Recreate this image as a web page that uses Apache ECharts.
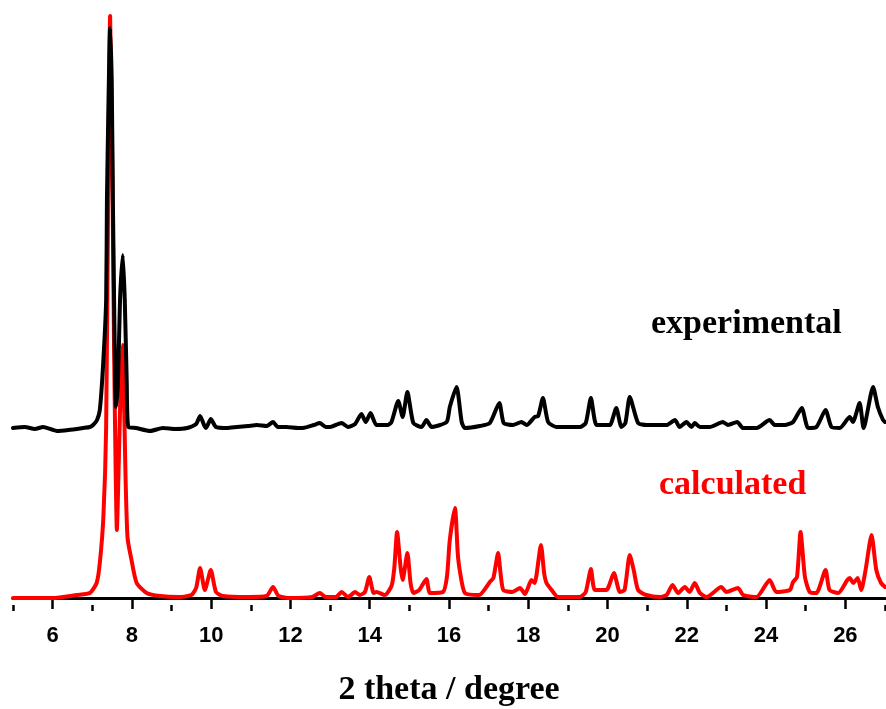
<!DOCTYPE html>
<html>
<head>
<meta charset="utf-8">
<script src="https://cdn.jsdelivr.net/npm/echarts@6/dist/echarts.min.js"></script>
<style>
html,body{margin:0;padding:0;background:#fff;}
#chart{width:886px;height:709px;}
</style>
</head>
<body>
<div id="chart"></div>
<script>
// 2theta positions (degree) and intensities
const calcTheta = [5.00,6.00,6.61,6.94,7.11,7.19,7.28,7.35,7.40,7.45,7.50,7.55,7.59,7.62,7.67,7.72,7.76,7.80,7.84,7.89,7.99,8.12,8.37,8.71,9.20,9.50,9.62,9.72,9.84,9.99,10.12,10.30,10.93,11.40,11.56,11.70,12.00,12.55,12.74,12.89,13.15,13.29,13.45,13.50,13.63,13.75,13.88,13.99,14.10,14.17,14.38,14.55,14.62,14.69,14.78,14.83,14.95,15.03,15.10,15.25,15.43,15.52,15.85,15.95,16.02,16.15,16.22,16.27,16.40,16.76,17.03,17.12,17.24,17.30,17.37,17.60,17.79,17.92,18.08,18.16,18.32,18.40,18.46,18.59,18.75,19.30,19.45,19.58,19.68,19.97,20.16,20.31,20.43,20.56,20.66,20.77,20.98,21.32,21.49,21.64,21.78,21.95,22.07,22.20,22.33,22.50,22.87,23.00,23.29,23.42,23.76,24.09,24.26,24.60,24.68,24.78,24.87,24.98,25.10,25.27,25.50,25.60,25.82,26.05,26.11,26.20,26.31,26.40,26.51,26.66,26.78,26.90,27.00];
const calcIntensity = [0,0,3,5,15,35,81,171,398,582,448,248,128,68,138,218,253,200,120,60,38,15,5,2,1,3,10,30,8,28,6,2,1,2,11,2,0,1,5,1,1,6,1,2,6,3,6,21,5,6,3,12,30,66,30,18,45,15,5,8,19,5,6,22,58,90,45,28,5,3,16,20,45,25,8,6,10,4,18,15,53,25,15,8,1,1,6,29,8,8,25,6,8,43,28,8,3,1,3,13,5,11,6,15,5,1,11,6,10,3,1,18,6,8,16,21,66,21,6,5,28,8,5,18,20,15,20,8,28,63,28,15,11];

const expTheta = [5.00,5.30,5.55,5.76,6.11,6.40,6.77,6.94,7.02,7.12,7.19,7.27,7.35,7.37,7.41,7.45,7.49,7.52,7.56,7.60,7.65,7.70,7.77,7.82,7.87,7.91,8.10,8.46,8.78,9.10,9.39,9.62,9.72,9.82,9.87,9.99,10.12,10.40,10.65,10.93,11.15,11.40,11.56,11.68,11.90,12.19,12.31,12.59,12.74,12.89,13.00,13.29,13.45,13.63,13.79,13.90,14.02,14.17,14.46,14.55,14.72,14.83,14.95,15.10,15.31,15.43,15.56,15.94,16.02,16.19,16.32,16.40,16.78,17.03,17.27,17.38,17.61,17.83,17.96,18.16,18.25,18.37,18.50,18.71,19.00,19.30,19.45,19.58,19.72,19.95,20.06,20.22,20.35,20.45,20.56,20.77,20.98,21.32,21.49,21.70,21.82,21.99,22.12,22.20,22.33,22.58,22.91,23.04,23.27,23.42,23.76,24.09,24.22,24.47,24.68,24.90,25.06,25.27,25.50,25.65,25.86,26.11,26.19,26.36,26.46,26.70,26.82,26.95,27.00];
const expIntensity = [0,1,-1,1,-3,-2,0,1,3,8,18,61,128,228,328,400,348,228,98,21,48,128,173,128,45,1,0,-3,0,-1,0,4,12,3,0,9,1,0,1,2,3,2,6,1,1,0,0,3,5,1,1,5,1,4,14,6,15,3,3,6,27,11,36,5,1,8,1,6,21,41,6,0,2,5,25,5,3,6,3,11,12,30,6,1,1,1,5,30,3,3,3,20,1,5,31,5,3,3,3,8,1,6,1,5,1,1,6,3,6,0,0,8,3,3,6,20,0,1,18,1,0,11,6,25,0,41,21,8,6];
const expOffset = 170;

const majorTicks = [6,8,10,12,14,16,18,20,22,24,26];
const minorTicks = [5,7,9,11,13,15,17,19,21,23,25,27];
const xTitle = '2 theta / degree';
const labelExp = 'experimental';
const labelCalc = 'calculated';

const calcData = calcTheta.map((t, i) => [t, calcIntensity[i]]);
const expData = expTheta.map((t, i) => [t, expIntensity[i] + expOffset]);

const chart = echarts.init(document.getElementById('chart'), null, {renderer: 'canvas'});
chart.setOption({
  animation: false,
  backgroundColor: '#fff',
  grid: {left: 13, right: 1, top: 0, bottom: 104, containLabel: false, outerBoundsMode: 'none'},
  xAxis: [{
    type: 'value', min: 5, max: 27, position: 'bottom',
    axisLine: {show: true, lineStyle: {color: '#000', width: 3}},
    axisTick: {show: true, customValues: majorTicks, length: 11, lineStyle: {color: '#000', width: 2.5}},
    axisLabel: {show: true, customValues: majorTicks, margin: 20, color: '#000', fontSize: 22, fontWeight: 'bold', fontFamily: 'Liberation Sans'},
    splitLine: {show: false},
    name: xTitle, nameLocation: 'middle', nameGap: 68,
    nameTextStyle: {color: '#000', fontSize: 34, fontWeight: 'bold', fontFamily: 'Liberation Serif'}
  }, {
    type: 'value', min: 5, max: 27, position: 'bottom', gridIndex: 0,
    axisLine: {show: false},
    axisTick: {show: true, customValues: minorTicks, length: 6, lineStyle: {color: '#000', width: 2.5}},
    axisLabel: {show: false},
    splitLine: {show: false}
  }],
  yAxis: {type: 'value', min: -7, max: 598, show: false, splitLine: {show: false}},
  series: [{
    name: 'calculated', type: 'line', data: calcData, showSymbol: false, symbol: 'none',
    smooth: 0.2,
    lineStyle: {color: '#ff0000', width: 4, join: 'round', cap: 'round'}, z: 2
  }, {
    name: 'experimental', type: 'line', data: expData, showSymbol: false, symbol: 'none',
    smooth: 0.2,
    lineStyle: {color: '#000', width: 4, join: 'round', cap: 'round'}, z: 3
  }],
  graphic: [{
    type: 'text', x: 651, y: 324,
    style: {text: labelExp, font: 'bold 34px "Liberation Serif"', fill: '#000', verticalAlign: 'middle',
      shadowColor: 'rgba(0,0,0,0.35)', shadowOffsetX: 1, shadowOffsetY: 1, shadowBlur: 1}
  }, {
    type: 'text', x: 659, y: 485,
    style: {text: labelCalc, font: 'bold 34px "Liberation Serif"', fill: '#ff0000', verticalAlign: 'middle',
      shadowColor: 'rgba(110,0,0,0.8)', shadowOffsetX: 1, shadowOffsetY: 1, shadowBlur: 1}
  }]
});
</script>
</body>
</html>
